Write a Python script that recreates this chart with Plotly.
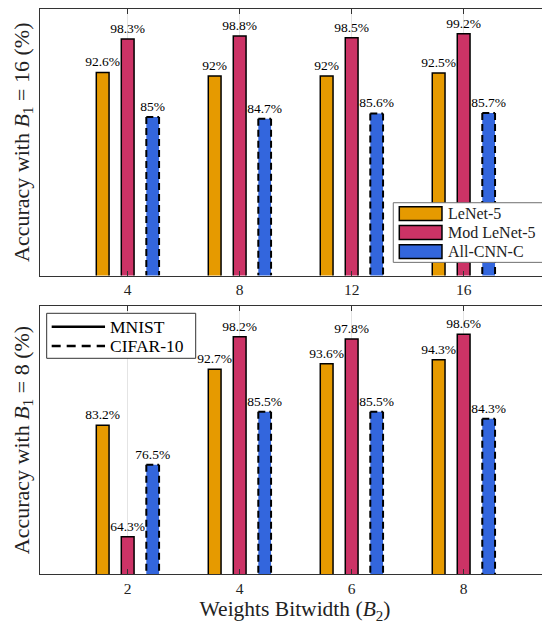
import plotly.graph_objects as go
from plotly.subplots import make_subplots

# ---------------- data ----------------
models = ["LeNet-5", "Mod LeNet-5", "All-CNN-C"]
datasets = ["MNIST", "CIFAR-10"]

top_bitwidths = ["4", "8", "12", "16"]          # B1 = 16
top_lenet5 = [92.6, 92, 92, 92.5]
top_mod_lenet5 = [98.3, 98.8, 98.5, 99.2]
top_allcnnc = [85, 84.7, 85.6, 85.7]

bottom_bitwidths = ["2", "4", "6", "8"]         # B1 = 8
bottom_lenet5 = [83.2, 92.7, 93.6, 94.3]
bottom_mod_lenet5 = [64.3, 98.2, 97.8, 98.6]
bottom_allcnnc = [76.5, 85.5, 85.5, 84.3]

# ---------------- style ----------------
FONT = "Liberation Serif"
COLORS = ["#E69A00", "#CC3366", "#3366DD"]
SLOT = 0.2233
BAR_W = 0.114
Y_RANGE = [58, 103.4]
X_RANGE = [0.217, 4.771]
DASH = "7px,4px"

fig = make_subplots(rows=2, cols=1)


def add_panel(row, cats, series):
    xpos = list(range(1, len(cats) + 1))
    for k, (name, vals) in enumerate(zip(models, series)):
        off = (k - 1) * SLOT - BAR_W / 2
        dashed = k == 2
        lab_font = dict(family=FONT, size=13.5, color="black")
        fig.add_trace(go.Bar(
            x=xpos, y=vals, name=name, showlegend=False,
            width=BAR_W, offset=off,
            marker=dict(color=COLORS[k],
                        line=dict(color="black", width=0 if dashed else 1.5)),
            texttemplate="%{y}%", textposition="outside",
            textfont=lab_font, outsidetextfont=lab_font,
            constraintext="none", cliponaxis=False,
        ), row=row, col=1)
        if dashed:
            xs, ys = [], []
            for xi, v in zip(xpos, vals):
                x0 = xi + off
                x1 = x0 + BAR_W
                xs += [x0, x0, None, x0, x1, None, x1, x1, None]
                ys += [v, Y_RANGE[0], None, v, v, None, v, Y_RANGE[0], None]
            fig.add_trace(go.Scatter(
                x=xs, y=ys, mode="lines", showlegend=False, hoverinfo="skip",
                line=dict(color="black", width=2, dash=DASH),
            ), row=row, col=1)
    fig.update_xaxes(tickvals=xpos, ticktext=cats, row=row, col=1)


add_panel(1, top_bitwidths, [top_lenet5, top_mod_lenet5, top_allcnnc])
add_panel(2, bottom_bitwidths, [bottom_lenet5, bottom_mod_lenet5, bottom_allcnnc])

axis_col = "#333333"
fig.update_xaxes(
    range=X_RANGE, showgrid=True, gridcolor="#e4e4e4", gridwidth=1,
    showline=True, linecolor=axis_col, linewidth=1, mirror="ticks",
    ticks="inside", ticklen=5, tickcolor=axis_col, zeroline=False,
    tickfont=dict(family=FONT, size=15.5, color="#222222"), automargin=False,
    domain=[0, 1],
)
fig.update_yaxes(
    range=Y_RANGE, showgrid=False, showline=True, linecolor=axis_col,
    linewidth=1, mirror=False, showticklabels=False, ticks="", zeroline=False,
    title_font=dict(family=FONT, size=22, color="#222222"), title_standoff=3,
    automargin=False,
)
fig.update_yaxes(title_text="Accuracy with <i>B</i><sub>1</sub> = 16 (%)", domain=[0.5283, 1.0], row=1, col=1)
fig.update_yaxes(title_text="Accuracy with <i>B</i><sub>1</sub> = 8 (%)", domain=[0.0, 0.4743], row=2, col=1)
fig.update_xaxes(title_text="Weights Bitwidth (<i>B</i><sub>2</sub>)",
                 title_font=dict(family=FONT, size=21.5, color="#222222"),
                 title_standoff=5, row=2, col=1)

shapes = []
annotations = []

# legend: models (top panel)
shapes.append(dict(type="rect", xref="x domain", yref="y domain",
                   x0=0.6927, x1=0.9967, y0=0.0493, y1=0.2731,
                   fillcolor="white", line=dict(color="#707070", width=1), layer="above"))
for k, (name, yc) in enumerate(zip(models, [0.2321, 0.1612, 0.0896])):
    shapes.append(dict(type="rect", xref="x domain", yref="y domain",
                       x0=0.7045, x1=0.7882, y0=yc - 0.026, y1=yc + 0.026,
                       fillcolor=COLORS[k], line=dict(color="black", width=1.5), layer="above"))
    annotations.append(dict(xref="x domain", yref="y domain", x=0.7961, y=yc,
                            xanchor="left", yanchor="middle", text=name, showarrow=False,
                            font=dict(family=FONT, size=16, color="#222222")))

# legend: datasets (bottom panel)
shapes.append(dict(type="rect", xref="x2 domain", yref="y2 domain",
                   x0=0.0131, x1=0.3053, y0=0.8049, y1=0.9728,
                   fillcolor="white", line=dict(color="#333333", width=1), layer="above"))
for name, yc, dash in zip(datasets, [0.9228, 0.8507], ["solid", "9px,6px"]):
    shapes.append(dict(type="line", xref="x2 domain", yref="y2 domain",
                       x0=0.0229, x1=0.1275, y0=yc, y1=yc,
                       line=dict(color="black", width=2.5, dash=dash), layer="above"))
    annotations.append(dict(xref="x2 domain", yref="y2 domain", x=0.1339, y=yc,
                            xanchor="left", yanchor="middle", text=name, showarrow=False,
                            font=dict(family=FONT, size=17.5, color="black")))

# the page body has an 8px margin; the figure is offset by it and the
# lowest few pixels of its bottom margin fall outside the window
fig.update_layout(
    width=542, height=622,
    margin=dict(l=32, r=0, t=1, b=56),
    plot_bgcolor="white", paper_bgcolor="white",
    barmode="overlay", showlegend=False,
    shapes=shapes, annotations=annotations,
    font=dict(family=FONT),
)

fig.write_html("out.html")
